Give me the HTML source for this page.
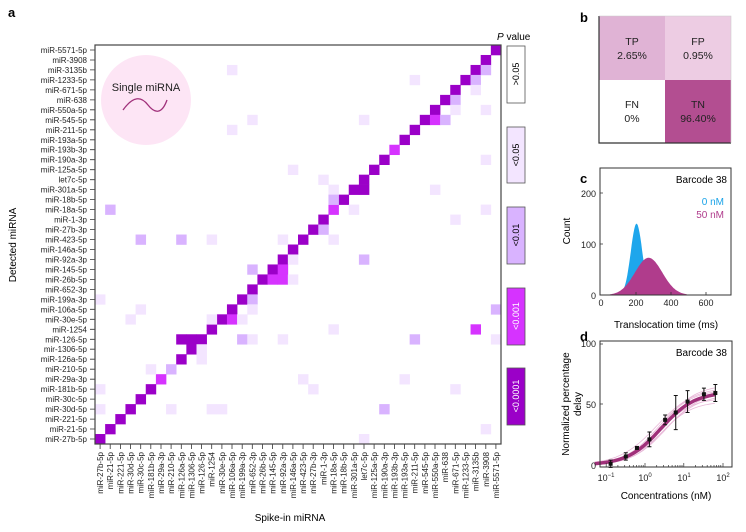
<!DOCTYPE html>
<html><head><meta charset="utf-8"><style>
html,body{margin:0;padding:0;background:#fff;}
svg{display:block;font-family:"Liberation Sans",sans-serif;}
</style></head><body>
<svg id="s" width="746" height="532" viewBox="0 0 746 532" xmlns="http://www.w3.org/2000/svg">
<text x="8" y="17" font-size="13" font-weight="bold">a</text>
<text x="580" y="183" font-size="13" font-weight="bold">c</text>
<text x="580" y="341" font-size="13" font-weight="bold">d</text>
<g id="hm"></g>
<circle cx="146" cy="100" r="45" fill="#fde5f5"/>
<text x="146" y="91" font-size="11" text-anchor="middle" fill="#222">Single miRNA</text>
<path d="M123,110 C133,96 141,96 148,105 C155,114 162,114 167,100" fill="none" stroke="#a0307a" stroke-width="1.3"/>
<rect x="95" y="45" width="406" height="399" fill="none" stroke="#444" stroke-width="1.2"/>
<text x="16" y="245" font-size="10" text-anchor="middle" transform="rotate(-90 16 245)">Detected miRNA</text>
<text x="290" y="521" font-size="10" text-anchor="middle">Spike-in miRNA</text>
<text x="497" y="40" font-size="10"><tspan font-style="italic">P</tspan> value</text>
<g stroke="#555" stroke-width="0.8">
<rect x="507" y="46" width="18" height="57" fill="#fff"/>
<rect x="507" y="127" width="18" height="56" fill="#f3e5ff"/>
<rect x="507" y="207" width="18" height="57" fill="#d9b3ff"/>
<rect x="507" y="288" width="18" height="57" fill="#d633ff"/>
<rect x="507" y="368" width="18" height="57" fill="#9b00c8"/>
</g>
<g font-size="9" text-anchor="middle">
<text transform="translate(519 74) rotate(-90)">&gt;0.05</text>
<text transform="translate(519 155) rotate(-90)">&lt;0.05</text>
<text transform="translate(519 235) rotate(-90)">&lt;0.01</text>
<text transform="translate(519 316) rotate(-90)" fill="#fff">&lt;0.001</text>
<text transform="translate(519 396) rotate(-90)" fill="#fff">&lt;0.0001</text>
</g>
<!-- panel b -->
<rect x="599" y="16" width="66" height="64" fill="#e0b3d5"/>
<rect x="665" y="16" width="66" height="64" fill="#edcce3"/>
<rect x="599" y="80" width="66" height="63" fill="#fff"/>
<rect x="665" y="80" width="66" height="63" fill="#b34e91"/>
<path d="M599,16 V143 H731" fill="none" stroke="#333" stroke-width="1.2"/>
<path d="M599,16 H731 V143" fill="none" stroke="#ccc" stroke-width="0.6"/>
<text x="580" y="22" font-size="13" font-weight="bold">b</text>
<g font-size="10.5" text-anchor="middle" fill="#222">
<text x="632" y="45">TP</text><text x="632" y="59">2.65%</text>
<text x="698" y="45">FP</text><text x="698" y="59">0.95%</text>
<text x="632" y="108">FN</text><text x="632" y="122">0%</text>
<text x="698" y="108">TN</text><text x="698" y="122">96.40%</text>
</g>
<!-- panel c -->
<g id="pc"></g>
<rect x="600" y="168" width="131" height="127" fill="none" stroke="#333" stroke-width="1"/>
<g font-size="9" text-anchor="end" fill="#222">
<text x="596" y="197">200</text><text x="596" y="248">100</text><text x="596" y="299">0</text>
</g>
<g font-size="9" text-anchor="middle" fill="#222">
<text x="601" y="306">0</text><text x="636" y="306">200</text><text x="671" y="306">400</text><text x="706" y="306">600</text>
</g>
<g stroke="#333" stroke-width="0.8"><path d="M600,193h3M600,244h3M636,295v-3M671,295v-3M706,295v-3"/></g>
<text x="727" y="183" font-size="10" text-anchor="end">Barcode 38</text>
<text x="724" y="205" font-size="10" text-anchor="end" fill="#1aa3e8">0 nM</text>
<text x="724" y="218" font-size="10" text-anchor="end" fill="#b03c8c">50 nM</text>
<text x="570" y="231" font-size="10" text-anchor="middle" transform="rotate(-90 570 231)">Count</text>
<text x="666" y="328" font-size="10" text-anchor="middle">Translocation time (ms)</text>
<!-- panel d -->
<g id="pd"></g>
<rect x="600" y="341" width="132" height="126" fill="none" stroke="#333" stroke-width="1"/>
<g font-size="9" text-anchor="end" fill="#222">
<text x="596" y="347">100</text><text x="596" y="408">50</text><text x="596" y="469">0</text>
</g>
<g font-size="9" text-anchor="middle" fill="#222">
<text x="606" y="481">10<tspan font-size="6" dy="-4">−1</tspan></text>
<text x="645" y="481">10<tspan font-size="6" dy="-4">0</tspan></text>
<text x="684" y="481">10<tspan font-size="6" dy="-4">1</tspan></text>
<text x="723" y="481">10<tspan font-size="6" dy="-4">2</tspan></text>
</g>
<text x="727" y="356" font-size="10" text-anchor="end">Barcode 38</text>
<text x="569" y="404" font-size="10" text-anchor="middle" transform="rotate(-90 569 404)">Normalized percentage</text>
<text x="581" y="404" font-size="10" text-anchor="middle" transform="rotate(-90 581 404)">delay</text>
<text x="666" y="499" font-size="10" text-anchor="middle">Concentrations (nM)</text>
</svg>
<script>
(function(){
var NS="http://www.w3.org/2000/svg";
function el(p,t,a,txt){var e=document.createElementNS(NS,t);for(var k in a)e.setAttribute(k,a[k]);if(txt!=null)e.textContent=txt;p.appendChild(e);return e;}
var xl=["miR-27b-5p","miR-21-5p","miR-221-5p","miR-30d-5p","miR-30c-5p","miR-181b-5p","miR-29a-3p","miR-210-5p","miR-126a-5p","miR-1306-5p","miR-126-5p","miR-1254","miR-30e-5p","miR-106a-5p","miR-199a-3p","miR-652-3p","miR-26b-5p","miR-145-5p","miR-92a-3p","miR-146a-5p","miR-423-5p","miR-27b-3p","miR-1-3p","miR-18a-5p","miR-18b-5p","miR-301a-5p","let7c-5p","miR-125a-5p","miR-190a-3p","miR-193b-3p","miR-193a-5p","miR-211-5p","miR-545-5p","miR-550a-5p","miR-638","miR-671-5p","miR-1233-5p","miR-3135b","miR-3908","miR-5571-5p"];
var yl=xl.slice().reverse(); yl[30]="mir-1306-5p";
var X0=95,Y0=45,CW=406/40,RH=399/40;
var C=["#fff","#f3e5ff","#d9b3ff","#d633ff","#9b00c8"];
var g=document.getElementById("hm");
var cells={};
for(var r=0;r<40;r++)cells[r+","+(39-r)]=4;
var ex=[[10,29,3],[16,23,3],[32,7,2],[33,6,3],[2,38,2],[2,13,1],[3,31,1],[3,37,2],[4,37,1],[5,35,2],[6,35,1],[6,38,1],[7,15,1],[7,26,1],[7,33,3],[7,34,2],[8,13,1],[11,38,1],[12,19,1],[13,22,1],[14,26,4],[14,23,1],[14,33,1],[15,23,2],[16,1,2],[16,25,1],[16,38,1],[17,35,1],[18,22,2],[19,4,2],[19,8,2],[19,11,1],[19,18,1],[19,23,1],[21,19,1],[21,26,2],[22,15,2],[22,18,3],[23,17,3],[23,18,3],[23,19,1],[25,0,1],[25,15,2],[26,4,1],[26,15,1],[26,39,2],[27,3,1],[27,11,1],[27,13,3],[27,14,1],[28,23,1],[28,37,3],[29,8,4],[29,9,4],[29,14,2],[29,15,1],[29,18,1],[29,31,2],[29,39,1],[30,10,1],[31,10,1],[32,5,1],[33,20,1],[33,30,1],[34,0,1],[34,21,1],[34,35,1],[36,0,1],[36,7,1],[36,11,1],[36,12,1],[36,28,2],[38,38,1],[39,26,1]];
ex.forEach(function(e){cells[e[0]+","+e[1]]=e[2];});
for(var k in cells){var p=k.split(",");el(g,"rect",{x:(X0+p[1]*CW).toFixed(2),y:(Y0+p[0]*RH).toFixed(2),width:(CW+0.3).toFixed(2),height:(RH+0.3).toFixed(2),fill:C[cells[k]]});}
var tk="";
for(var i=0;i<40;i++){
 var y=Y0+(i+0.5)*RH; tk+="M90,"+y.toFixed(1)+"H95";
 el(g,"text",{x:87,y:(y+3).toFixed(1),"font-size":"8","text-anchor":"end",fill:"#222"},yl[i]);
 var x=X0+(i+0.5)*CW; tk+="M"+x.toFixed(1)+",444V449";
 el(g,"text",{x:0,y:0,"font-size":"8","text-anchor":"end",fill:"#222",transform:"translate("+(x+3).toFixed(1)+" 452) rotate(-90)"},xl[i]);
}
el(g,"path",{d:tk,stroke:"#333","stroke-width":"0.8",fill:"none"});
var pc=document.getElementById("pc");
function gx(t){return 601+t*0.175;} function gy(c){return 295-c*0.51;}
function gauss(A,m,s,a,b){var d="M"+gx(a)+","+gy(0);for(var t=a;t<=b;t+=5){d+="L"+gx(t).toFixed(1)+","+gy(A*Math.exp(-Math.pow((t-m)/s,2)/2)).toFixed(1);}return d+"L"+gx(b)+","+gy(0)+"Z";}
el(pc,"path",{d:gauss(140,203,33,100,330),fill:"#1ea6ec"});
el(pc,"path",{d:gauss(73,272,78,50,490),fill:"#b03c8c"});
var pd=document.getElementById("pd");
function lx(c){return 645+Math.log10(c)*38.8;} function ly(v){return 465-v*1.22;}
function sig(c,T,K,h){return T*Math.pow(c,h)/(Math.pow(c,h)+Math.pow(K,h));}
var vars=[[62,2.2,1],[66,2.8,1],[55,2.3,1.05],[58,3.2,0.95],[64,2.0,0.9],[52,2.6,1.1],[60,3.6,1]];
vars.forEach(function(v){var d="";for(var e=-1.3;e<=1.85;e+=0.05){var c=Math.pow(10,e);d+=(d?"L":"M")+lx(c).toFixed(1)+","+ly(sig(c,v[0],v[1],v[2])).toFixed(1);}el(pd,"path",{d:d,fill:"none",stroke:"#e8b8d8","stroke-width":"0.8"});});
var d2="";for(var e=-1.3;e<=1.85;e+=0.05){var c=Math.pow(10,e);d2+=(d2?"L":"M")+lx(c).toFixed(1)+","+ly(sig(c,60,2.6,1)).toFixed(1);}
el(pd,"path",{d:d2,fill:"none",stroke:"#a0307a","stroke-width":"3.5"});
var pts=[[0.13,1,3],[0.32,7,3],[0.62,14,1],[1.3,21,6],[3.3,37,4],[6.2,43,14],[12.5,52,9],[33,58,5],[65,59,7]];
pts.forEach(function(p){var x=lx(p[0]);el(pd,"path",{d:"M"+x+","+ly(p[1]-p[2])+"V"+ly(p[1]+p[2])+"M"+(x-2)+","+ly(p[1]-p[2])+"h4M"+(x-2)+","+ly(p[1]+p[2])+"h4",stroke:"#111","stroke-width":"1",fill:"none"});el(pd,"rect",{x:x-2,y:ly(p[1])-2,width:4,height:4,fill:"#111"});});
var t="M600,344h3M600,404h3";
for(var dd=-1;dd<=1;dd++)for(var m=1;m<10;m++){var x=lx(m*Math.pow(10,dd));if(x>600&&x<732)t+="M"+x.toFixed(1)+",467v"+(m==1?-4:-2);}
t+="M723,467v-4";
el(pd,"path",{d:t,stroke:"#333","stroke-width":"0.7",fill:"none"});
})();
</script>
</body></html>
